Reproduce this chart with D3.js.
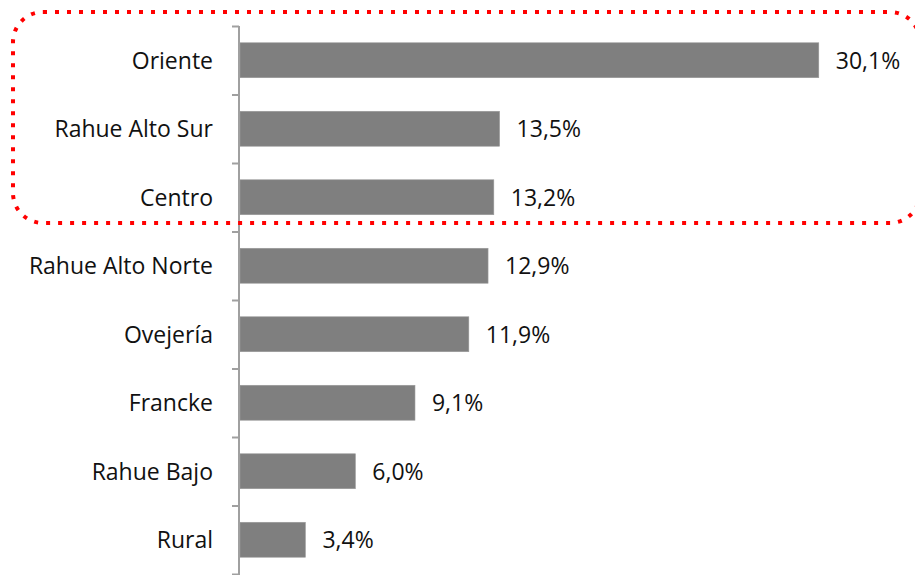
<!DOCTYPE html>
<html>
<head>
<meta charset="utf-8">
<script src="https://cdn.jsdelivr.net/npm/d3@7"></script>
<style>
  body { margin: 0; background: #fff; }
  svg text { font-family: "Open Sans", Lato, sans-serif; fill: #111; }
</style>
</head>
<body>
<div id="chart"></div>
<script>
const sectores = ["Oriente", "Rahue Alto Sur", "Centro", "Rahue Alto Norte", "Ovejería", "Francke", "Rahue Bajo", "Rural"];
const porcentajes = [30.1, 13.5, 13.2, 12.9, 11.9, 9.1, 6.0, 3.4];
const etiquetas = ["30,1%", "13,5%", "13,2%", "12,9%", "11,9%", "9,1%", "6,0%", "3,4%"];

const W = 915, H = 575;
const axisX = 239;

const svg = d3.select("#chart").append("svg")
  .attr("width", W)
  .attr("height", H);

const y = d3.scaleBand()
  .domain(sectores)
  .range([26, 574])
  .paddingInner(0.49)
  .paddingOuter(0.245);

const x = d3.scaleLinear()
  .domain([0, 35])
  .range([axisX + 1, axisX + 1 + 673]);

// bars
svg.append("g").selectAll("rect")
  .data(sectores)
  .join("rect")
  .attr("x", x(0))
  .attr("y", d => y(d))
  .attr("width", (d, i) => x(porcentajes[i]) - x(0))
  .attr("height", y.bandwidth())
  .attr("fill", "#7f7f7f")
  .attr("stroke", "#9a9a9a")
  .attr("stroke-width", 0.6);

// value labels
svg.append("g").selectAll("text")
  .data(sectores)
  .join("text")
  .attr("x", (d, i) => x(porcentajes[i]) + 17)
  .attr("y", d => y(d) + y.bandwidth() / 2)
  .attr("dy", "0.36em")
  .attr("font-size", 23)
  .text((d, i) => etiquetas[i]);

// category labels
svg.append("g").selectAll("text")
  .data(sectores)
  .join("text")
  .attr("x", 213)
  .attr("y", d => y(d) + y.bandwidth() / 2)
  .attr("dy", "0.36em")
  .attr("text-anchor", "end")
  .attr("font-size", 23)
  .text(d => d);

// category axis with ticks between categories
const edges = d3.scaleLinear().domain([0, sectores.length]).range([26, 574]);
const axis = svg.append("g")
  .attr("transform", `translate(${axisX},0)`)
  .call(d3.axisLeft(edges).ticks(sectores.length).tickSize(7).tickFormat(""));
axis.select(".domain").attr("d", `M0,26V${H}`);
axis.selectAll("path, line").attr("stroke", "#a0a0a0").attr("stroke-width", 2);

// highlight box around the top three
svg.append("rect")
  .attr("x", 13)
  .attr("y", 12)
  .attr("width", 907)
  .attr("height", 211)
  .attr("rx", 30)
  .attr("fill", "none")
  .attr("stroke", "#ff0000")
  .attr("stroke-width", 4)
  .attr("stroke-dasharray", "4 8");
</script>
</body>
</html>
